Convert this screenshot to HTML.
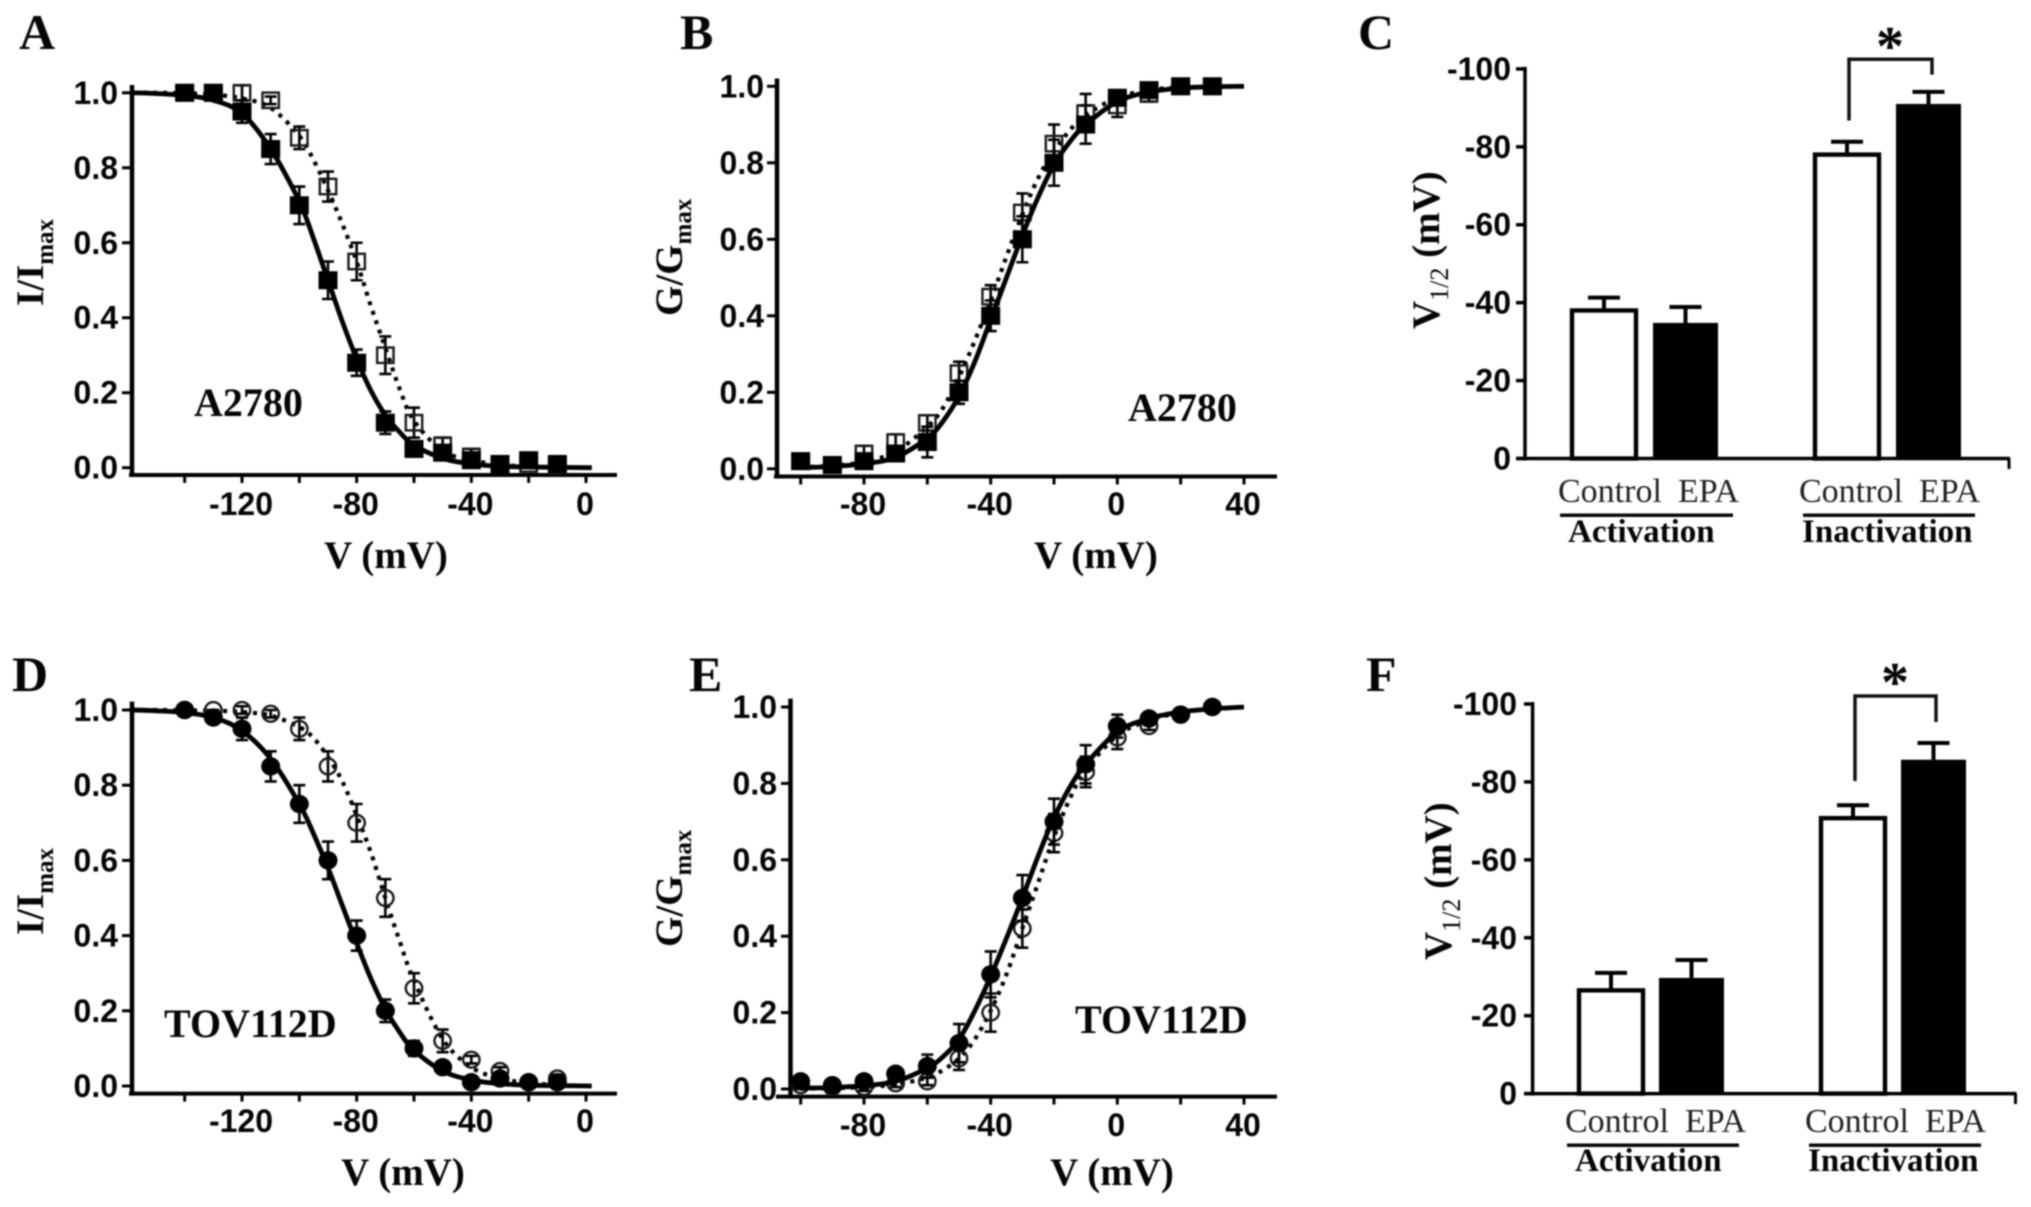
<!DOCTYPE html>
<html lang="en">
<head>
<meta charset="utf-8">
<title>Voltage dependence of activation and inactivation</title>
<style>
html,body{margin:0;padding:0;background:#fff}
svg{display:block;filter:blur(.7px)}
text{fill:#050505}
.tick{font:bold 32px "Liberation Sans",sans-serif}
.serif-b{font:bold 39px "Liberation Serif",serif}
.sub{font-size:25px}
.letter{font:bold 50px "Liberation Serif",serif}
.cat{font:34px "Liberation Serif",serif;fill:#222}
.grp{font:bold 33px "Liberation Serif",serif}
.star{font:bold 56px "Liberation Serif",serif}
</style>
</head>
<body>
<svg id="figure" xmlns="http://www.w3.org/2000/svg" width="2031" height="1207" viewBox="0 0 2031 1207">
<rect width="2031" height="1207" fill="#fff"/>

<text class="letter" x="19" y="49">A</text>
<text class="letter" x="680" y="49">B</text>
<text class="letter" x="1358" y="49">C</text>
<text class="letter" x="12" y="691">D</text>
<text class="letter" x="689" y="691">E</text>
<text class="letter" x="1366" y="691">F</text>

<text class="serif-b" transform="translate(43,306) rotate(-90)">I/I<tspan class="sub" dy="10">max</tspan></text>
<text class="serif-b" transform="translate(43,935) rotate(-90)">I/I<tspan class="sub" dy="10">max</tspan></text>
<text class="serif-b" transform="translate(682,316) rotate(-90)">G/G<tspan class="sub" dy="9">max</tspan></text>
<text class="serif-b" transform="translate(682,947) rotate(-90)">G/G<tspan class="sub" dy="9">max</tspan></text>
<text class="serif-b" transform="translate(1439,329) rotate(-90)">V<tspan style="font-size:26px;font-weight:normal" dy="9">1/2</tspan><tspan dy="-9"> (mV)</tspan></text>
<text class="serif-b" transform="translate(1451,960) rotate(-90)">V<tspan style="font-size:26px;font-weight:normal" dy="9">1/2</tspan><tspan dy="-9"> (mV)</tspan></text>

<text class="serif-b" text-anchor="middle" x="386" y="568">V (mV)</text>
<text class="serif-b" text-anchor="middle" x="1096" y="568">V (mV)</text>
<text class="serif-b" text-anchor="middle" x="403" y="1185">V (mV)</text>
<text class="serif-b" text-anchor="middle" x="1112" y="1185">V (mV)</text>

<text class="serif-b" style="font-size:40px" x="194" y="416">A2780</text>
<text class="serif-b" style="font-size:40px" x="1128" y="421">A2780</text>
<text class="serif-b" style="font-size:40px" x="164" y="1037">TOV112D</text>
<text class="serif-b" style="font-size:40px" x="1075" y="1033">TOV112D</text>

<g>
<text class="cat" x="1558" y="502">Control</text>
<text class="cat" x="1678" y="502">EPA</text>
<text class="cat" x="1799" y="502">Control</text>
<text class="cat" x="1919" y="502">EPA</text>
<rect x="1560" y="513.5" width="173" height="3.5" fill="#0a0a0a"/>
<rect x="1803" y="513.5" width="172" height="3.5" fill="#0a0a0a"/>
<text class="grp" x="1568" y="542">Activation</text>
<text class="grp" x="1802" y="542">Inactivation</text>
</g>
<g>
<text class="cat" x="1565" y="1132">Control</text>
<text class="cat" x="1685" y="1132">EPA</text>
<text class="cat" x="1805" y="1132">Control</text>
<text class="cat" x="1925" y="1132">EPA</text>
<rect x="1567" y="1143.5" width="172" height="3.5" fill="#0a0a0a"/>
<rect x="1809" y="1143.5" width="172" height="3.5" fill="#0a0a0a"/>
<text class="grp" x="1575" y="1171">Activation</text>
<text class="grp" x="1808" y="1171">Inactivation</text>
</g>

<path d="M1849 120.5V59.3H1932V74.6" fill="none" stroke="#111" stroke-width="3.5"/>
<text class="star" text-anchor="middle" x="1890" y="65">*</text>
<path d="M1855 781V696H1936V722" fill="none" stroke="#111" stroke-width="3.5"/>
<text class="star" text-anchor="middle" x="1895" y="701">*</text>
</svg>

<script>
const inactVolts = [-140,-130,-120,-110,-100,-90,-80,-70,-60,-50,-40,-30,-20,-10];
const activVolts = [-100,-90,-80,-70,-60,-50,-40,-30,-20,-10,0,10,20,30];
const inactFitVolts = [-158,-150,-140,-130,-120,-110,-100,-95,-90,-85,-80,-75,-70,-65,-60,-50,-40,-30,-20,-10,2];
const activFitVolts = [-100,-90,-80,-70,-60,-55,-50,-45,-40,-35,-30,-25,-20,-15,-10,0,10,20,30,40];

const aSolid = [1,1,.95,.85,.70,.50,.28,.12,.05,.04,.02,.01,.02,.01];
const aSolidErr = [.01,.01,.03,.04,.05,.05,.035,.03,.02,.02,.02,.01,.01,.01];
const aOpen = [1,1,1,.98,.88,.75,.55,.30,.12,.06,.03,.01,.01,.005];
const aOpenErr = [0,0,.02,.01,.03,.04,.05,.05,.04,.02,.02,.01,.01,.01];
const aFitSolid = [1,.998,.993,.98,.945,.85,.71,.61,.50,.39,.29,.205,.14,.095,.06,.025,.01,.004,.002,.001,0];
const aFitOpen = [1,1,.999,.995,.985,.96,.885,.82,.74,.65,.55,.43,.32,.21,.125,.045,.02,.008,.003,.001,0];

const bSolid = [.02,.01,.02,.04,.07,.20,.40,.60,.80,.90,.97,.99,1,1];
const bSolidErr = [.01,.01,.02,.02,.04,.03,.04,.06,.06,.05,.02,.01,.01,.01];
const bOpen = [.02,.01,.04,.07,.12,.25,.45,.67,.85,.93,.95,.98,1,1];
const bOpenErr = [.01,.01,.02,.02,.02,.03,.03,.05,.05,.05,.03,.02,.01,.01];
const bFitSolid = [.003,.006,.013,.03,.08,.125,.19,.28,.39,.50,.61,.71,.795,.855,.90,.96,.985,.995,.999,1];
const bFitOpen = [.004,.008,.018,.045,.11,.16,.24,.335,.44,.555,.665,.76,.83,.885,.925,.97,.99,.997,.999,1];

const dSolid = [1,.98,.95,.85,.75,.60,.40,.20,.10,.05,.01,.02,.01,.01];
const dSolidErr = [.01,.01,.03,.04,.05,.05,.04,.03,.02,.01,.01,.01,.01,.01];
const dOpen = [1,1,1,.99,.95,.85,.70,.50,.26,.12,.07,.04,.01,.02];
const dOpenErr = [0,0,.01,.01,.03,.04,.05,.05,.04,.03,.01,.01,.01,.01];
const dFitSolid = [1,.998,.993,.98,.945,.87,.75,.67,.58,.48,.38,.285,.205,.143,.095,.04,.016,.006,.002,.001,0];
const dFitOpen = [1,1,.999,.998,.995,.985,.955,.925,.875,.81,.72,.62,.50,.385,.28,.125,.05,.02,.008,.003,0];

const eSolid = [.02,.01,.02,.04,.06,.12,.30,.50,.70,.85,.95,.97,.98,1];
const eSolidErr = [.01,.01,.01,.01,.03,.05,.06,.06,.06,.05,.03,.01,.01,.01];
const eOpen = [.01,.005,.005,.015,.02,.08,.20,.42,.67,.83,.92,.95,.98,1];
const eOpenErr = [.01,.01,.01,.01,.01,.03,.05,.05,.05,.04,.03,.01,.01,.01];
const eFitSolid = [.002,.004,.009,.02,.055,.085,.13,.205,.295,.395,.50,.61,.71,.79,.85,.935,.97,.987,.995,1];
const eFitOpen = [.001,.002,.005,.012,.03,.05,.08,.13,.205,.30,.42,.54,.66,.76,.835,.925,.965,.985,.995,1];

const inactXTicks = [-140,-120,-100,-80,-60,-40,-20,0];
const inactXLabels = [-120,-80,-40,0];
const activXTicks = [-100,-80,-60,-40,-20,0,20,40];
const activXLabels = [-80,-40,0,40];
const fracYTicks = [0,.2,.4,.6,.8,1];
const barYTicks = [0,20,40,60,80,100];

const barCategories = ['control-activation','epa-activation','control-inactivation','epa-inactivation'];
const barGroups = [0,0,1,1];
const barSeries = [0,1,0,1];
const cValues = [38,34.8,78,91];
const cErrors = [3.3,4.1,3.3,3.1];
const fValues = [26.5,29.7,70.7,85.7];
const fErrors = [4.5,4.6,3.3,4.3];

const layoutA = {id:'a',xd:[-120,0],xr:[242,586],yr:[467.7,92.8],axisX:132,axisY:475,top:85,left:129,right:617,labelRight:118,tickL:122,xLabelY:515};
const layoutB = {id:'b',xd:[-80,40],xr:[864,1244],yr:[468.8,86.3],axisX:777,axisY:476.5,top:78.5,left:774,right:1277,labelRight:764,tickL:767,xLabelY:515};
const layoutD = {id:'d',xd:[-120,0],xr:[242,586],yr:[1086,710],axisX:132,axisY:1093.6,top:701.6,left:129,right:617,labelRight:118,tickL:122,xLabelY:1132};
const layoutE = {id:'e',xd:[-80,40],xr:[864,1244],yr:[1089,707],axisX:790.5,axisY:1096.6,top:698.6,left:776,right:1277,labelRight:777,tickL:781,xLabelY:1136};
const layoutC = {id:'c',yr:[458.5,68.9],axisX:1525,axisY:458.5,top:68.9,left:1516,right:2010,endTick:469,labelRight:1511,tickL:1516,x0:1570,groupStep:243,barStep:83};
const layoutF = {id:'f',yr:[1093.6,704],axisX:1532.6,axisY:1093.6,top:704,left:1524,right:2016.5,endTick:1104,labelRight:1517,tickL:1524,x0:1577,groupStep:242,barStep:82};

const NS = 'http://www.w3.org/2000/svg';
const figure = document.getElementById('figure');
const INK = '#000';

function linear(d0, d1, r0, r1) {
  return v => r0 + (v - d0) * (r1 - r0) / (d1 - d0);
}
function makeGroup(name) {
  const el = document.createElementNS(NS, 'g');
  
  
  figure.appendChild(el);
  return el;
}
function seg(parent, name, x1, y1, x2, y2, w) {
  const el = document.createElementNS(NS, 'line');
  
  
  el.setAttribute('x1', x1);
  el.setAttribute('y1', y1);
  el.setAttribute('x2', x2);
  el.setAttribute('y2', y2);
  el.setAttribute('stroke', INK);
  el.setAttribute('stroke-width', w);
  parent.appendChild(el);
  return el;
}
function label(parent, name, str, x, y, anchor) {
  const el = document.createElementNS(NS, 'text');
  
  
  el.setAttribute('class', 'tick');
  el.setAttribute('x', x);
  el.setAttribute('y', y);
  el.setAttribute('text-anchor', anchor);
  el.textContent = str;
  parent.appendChild(el);
  return el;
}
function smoothPath(pts) {
  let d = 'M' + pts[0][0].toFixed(1) + ' ' + pts[0][1].toFixed(1);
  for (let i = 0; i < pts.length - 1; i++) {
    const p0 = pts[Math.max(i - 1, 0)], p1 = pts[i], p2 = pts[i + 1], p3 = pts[Math.min(i + 2, pts.length - 1)];
    const c1x = p1[0] + (p2[0] - p0[0]) / 6, c1y = p1[1] + (p2[1] - p0[1]) / 6;
    const c2x = p2[0] - (p3[0] - p1[0]) / 6, c2y = p2[1] - (p3[1] - p1[1]) / 6;
    d += 'C' + c1x.toFixed(1) + ' ' + c1y.toFixed(1) + ' ' + c2x.toFixed(1) + ' ' + c2y.toFixed(1) + ' ' + p2[0].toFixed(1) + ' ' + p2[1].toFixed(1);
  }
  return d;
}
function fitLine(parent, name, xs, ys, sx, sy, dotted) {
  const el = document.createElementNS(NS, 'path');
  
  
  el.setAttribute('d', smoothPath(xs.map((v, i) => [sx(v), sy(ys[i])])));
  el.setAttribute('fill', 'none');
  el.setAttribute('stroke', INK);
  el.setAttribute('stroke-width', dotted ? 4.2 : 4.8);
  if (dotted) {
    el.setAttribute('stroke-dasharray', '4 6');
  }
  parent.appendChild(el);
}
function marker(parent, name, shape, cx, cy, filled) {
  const el = document.createElementNS(NS, shape === 'circle' ? 'ellipse' : 'rect');
  
  
  const size = filled ? 9.5 : 8.2;
  if (shape === 'circle') {
    el.setAttribute('cx', cx);
    el.setAttribute('cy', cy);
    el.setAttribute('rx', size);
    el.setAttribute('ry', size - .3);
  } else {
    el.setAttribute('x', cx - size);
    el.setAttribute('y', cy - size + .5);
    el.setAttribute('width', size * 2);
    el.setAttribute('height', size * 2 - 1);
  }
  el.setAttribute('fill', filled ? INK : 'none');
  el.setAttribute('stroke', filled ? 'none' : '#1a1a1a');
  el.setAttribute('stroke-width', filled ? 0 : 2.4);
  parent.appendChild(el);
}
function errorBar(parent, name, cx, yTop, yBottom) {
  const el = document.createElementNS(NS, 'path');
  
  
  el.setAttribute('d', 'M' + (cx - 6) + ' ' + yTop + 'H' + (cx + 6) + 'M' + cx + ' ' + yTop + 'V' + yBottom + 'M' + (cx - 6) + ' ' + yBottom + 'H' + (cx + 6));
  el.setAttribute('fill', 'none');
  el.setAttribute('stroke', INK);
  el.setAttribute('stroke-width', 2.6);
  parent.appendChild(el);
}
function drawCurvePanel(L, volts, solid, solidErr, open, openErr, fitV, fitSolid, fitOpen, xTicks, xLabels, shape) {
  const sx = linear(L.xd[0], L.xd[1], L.xr[0], L.xr[1]);
  const sy = linear(0, 1, L.yr[0], L.yr[1]);
  const g = makeGroup('chart-' + L.id);
  seg(g, 'y-axis-' + L.id, L.axisX, L.top, L.axisX, L.axisY + 2, 4.5);
  seg(g, 'x-axis-' + L.id, L.left, L.axisY, L.right, L.axisY, 4);
  fracYTicks.forEach(t => {
    seg(g, 'y-tick-' + L.id, L.tickL, sy(t), L.axisX, sy(t), 3);
    label(g, 'y-tick-label-' + L.id, t.toFixed(1), L.labelRight, sy(t) + 11, 'end');
  });
  xTicks.forEach(t => {
    seg(g, 'x-tick-' + L.id, sx(t), L.axisY, sx(t), L.axisY + 8, 3);
  });
  xLabels.forEach(t => {
    label(g, 'x-tick-label-' + L.id, String(t), sx(t) - 1, L.xLabelY, 'middle');
  });
  fitLine(g, 'fit-curve-epa-' + L.id, fitV, fitOpen, sx, sy, true);
  volts.forEach((v, i) => {
    errorBar(g, 'error-bar-epa-' + L.id, sx(v), sy(open[i] + openErr[i]), sy(open[i] - openErr[i]));
    marker(g, 'point-epa-' + L.id, shape, sx(v), sy(open[i]), false);
  });
  fitLine(g, 'fit-curve-control-' + L.id, fitV, fitSolid, sx, sy, false);
  volts.forEach((v, i) => {
    errorBar(g, 'error-bar-control-' + L.id, sx(v), sy(solid[i] + solidErr[i]), sy(solid[i] - solidErr[i]));
    marker(g, 'point-control-' + L.id, shape, sx(v), sy(solid[i]), true);
  });
}
function drawBarPanel(L, values, errors) {
  const sy = linear(0, 100, L.yr[0], L.yr[1]);
  const g = makeGroup('chart-' + L.id);
  barCategories.forEach((cat, i) => {
    const filled = barSeries[i] === 1;
    const left = L.x0 + barGroups[i] * L.groupStep + barSeries[i] * L.barStep;
    const width = filled ? 65 : 68;
    const center = left + width / 2;
    const top = sy(values[i]);
    const errTop = sy(values[i] + errors[i]);
    seg(g, 'error-stem-' + cat + '-' + L.id, center, top, center, errTop, 4);
    seg(g, 'error-cap-' + cat + '-' + L.id, center - 16, errTop, center + 16, errTop, 4);
    const bar = document.createElementNS(NS, 'rect');
    
    
    bar.setAttribute('x', filled ? left : left + 2);
    bar.setAttribute('y', top);
    bar.setAttribute('width', filled ? width : width - 4);
    bar.setAttribute('height', L.axisY - top);
    bar.setAttribute('fill', filled ? INK : '#fff');
    bar.setAttribute('stroke', filled ? 'none' : INK);
    bar.setAttribute('stroke-width', filled ? 0 : 4.4);
    g.appendChild(bar);
  });
  seg(g, 'y-axis-' + L.id, L.axisX, L.top - 2, L.axisX, L.axisY + 2, 3.5);
  seg(g, 'x-axis-' + L.id, L.left, L.axisY, L.right, L.axisY, 3.5);
  seg(g, 'x-axis-end-tick-' + L.id, L.right - 1, L.axisY, L.right - 1, L.endTick, 3);
  barYTicks.forEach(t => {
    seg(g, 'y-tick-' + L.id, L.tickL, sy(t), L.axisX, sy(t), 3.5);
    label(g, 'y-tick-label-' + L.id, t === 0 ? '0' : '-' + t, L.labelRight, sy(t) + 11, 'end');
  });
}

drawCurvePanel(layoutA, inactVolts, aSolid, aSolidErr, aOpen, aOpenErr, inactFitVolts, aFitSolid, aFitOpen, inactXTicks, inactXLabels, 'square');
drawCurvePanel(layoutB, activVolts, bSolid, bSolidErr, bOpen, bOpenErr, activFitVolts, bFitSolid, bFitOpen, activXTicks, activXLabels, 'square');
drawCurvePanel(layoutD, inactVolts, dSolid, dSolidErr, dOpen, dOpenErr, inactFitVolts, dFitSolid, dFitOpen, inactXTicks, inactXLabels, 'circle');
drawCurvePanel(layoutE, activVolts, eSolid, eSolidErr, eOpen, eOpenErr, activFitVolts, eFitSolid, eFitOpen, activXTicks, activXLabels, 'circle');
drawBarPanel(layoutC, cValues, cErrors);
drawBarPanel(layoutF, fValues, fErrors);
</script>
</body>
</html>
